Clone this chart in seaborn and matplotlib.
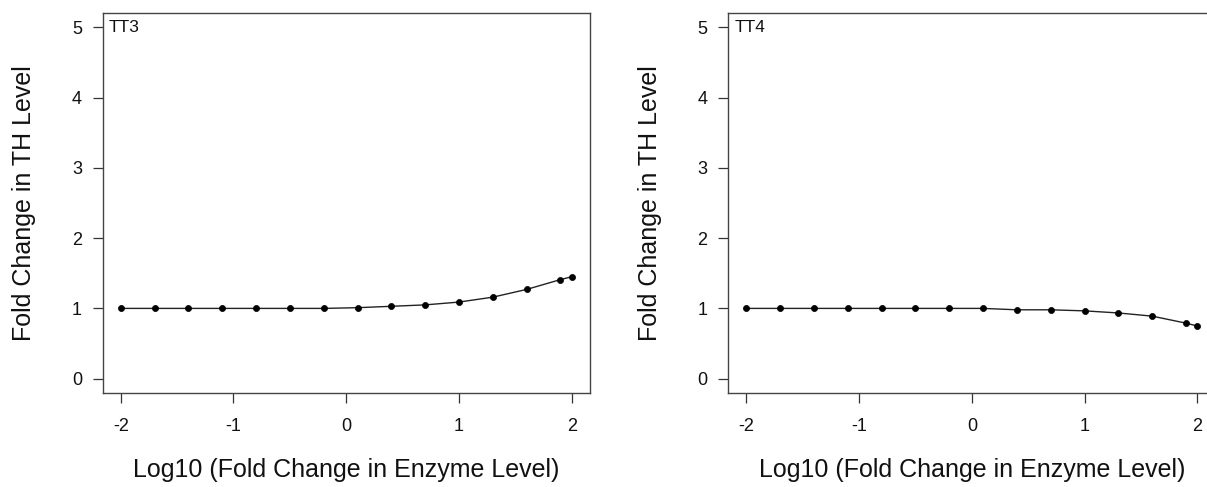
import matplotlib
matplotlib.use("Agg")
import matplotlib.pyplot as plt
import seaborn as sns
import pandas as pd

# Log10 fold change in enzyme level (x grid shared by both panels)
log_fold_enzyme = [-2.0, -1.7, -1.4, -1.1, -0.8, -0.5, -0.2, 0.1, 0.4, 0.7, 1.0, 1.3, 1.6, 1.9, 2.0]

# Fold change in thyroid hormone level
tt3_fold = [1.0, 1.0, 1.0, 1.0, 1.0, 1.0, 1.0, 1.01, 1.03, 1.05, 1.09, 1.16, 1.27, 1.41, 1.45]
tt4_fold = [1.0, 1.0, 1.0, 1.0, 1.0, 1.0, 1.0, 1.0, 0.98, 0.98, 0.965, 0.935, 0.89, 0.79, 0.75]

panel_names = ["TT3", "TT4"]
x_ticks = [-2, -1, 0, 1, 2]
y_ticks = [0, 1, 2, 3, 4, 5]
x_label = "Log10 (Fold Change in Enzyme Level)"
y_label = "Fold Change in TH Level"

sns.set_theme(style="white")
plt.rcParams["font.family"] = ["Liberation Sans", "DejaVu Sans"]

fig = plt.figure(figsize=(12.07, 4.87), dpi=100)

ax_w = 0.4035
ax_b = 0.1936
ax_h = 0.9727 - 0.1936
lefts = [0.0851, 0.6034]

series = [tt3_fold, tt4_fold]

for left, name, vals in zip(lefts, panel_names, series):
    ax = fig.add_axes([left, ax_b, ax_w, ax_h])
    df = pd.DataFrame({"x": log_fold_enzyme, "y": vals})
    sns.lineplot(data=df, x="x", y="y", ax=ax, color="#222222", linewidth=1.0,
                 marker="o", markersize=4.4, markerfacecolor="black",
                 markeredgecolor="black", markeredgewidth=0.5)
    ax.set_xlim(-2.16, 2.16)
    ax.set_ylim(-0.2, 5.2)
    ax.set_xticks(x_ticks)
    ax.set_yticks(y_ticks)
    ax.set_xticklabels([str(t) for t in x_ticks])
    ax.set_yticklabels([str(t) for t in y_ticks])
    ax.tick_params(axis="both", which="major", direction="out", length=7,
                   width=0.9, color="#333333", labelsize=13, labelcolor="#111111",
                   bottom=True, left=True)
    ax.tick_params(axis="x", pad=11)
    ax.tick_params(axis="y", pad=8)
    for sp in ax.spines.values():
        sp.set_color("#444444")
        sp.set_linewidth(1.0)
        sp.set_visible(True)
    ax.set_xlabel(x_label, fontsize=18, color="#111111")
    ax.set_ylabel(y_label, fontsize=18, color="#111111")
    ax.xaxis.set_label_coords(0.5, -0.172)
    ax.yaxis.set_label_coords(-0.136, 0.5)
    ax.text(0.012, 0.983, name, transform=ax.transAxes, ha="left", va="top",
            fontsize=12.5, color="#111111")
    ax.grid(False)

fig.savefig("out.png", dpi=100, facecolor="white")
